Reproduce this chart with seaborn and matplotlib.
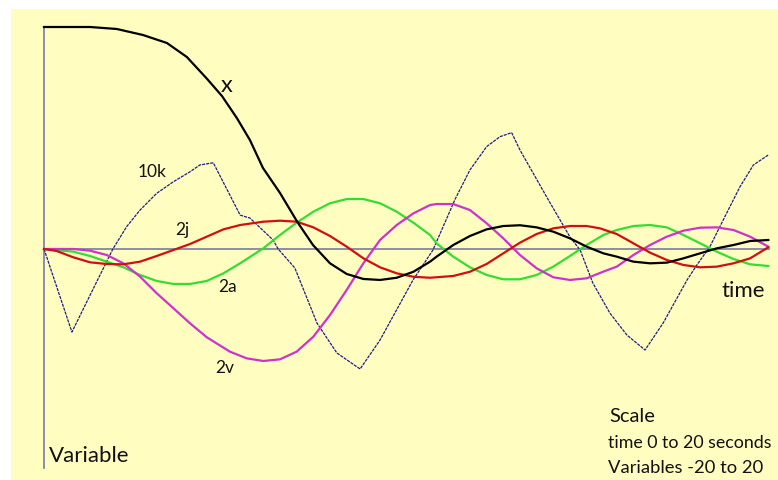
import matplotlib
matplotlib.use("Agg")
import matplotlib.pyplot as plt
import seaborn as sns
import pandas as pd

# Time samples (s) and values for each traced variable
t_x = [0, 1.27, 2.01, 2.73, 3.39, 3.94, 4.50, 4.91, 5.32, 5.68,
       6.04, 6.51, 6.99, 7.42, 7.89, 8.35, 8.81, 9.27, 9.73, 10.19,
       10.65, 10.83, 11.29, 11.75, 12.21, 12.67, 13.13, 13.59, 14.05, 14.51,
       14.97, 15.43, 15.80, 16.26, 16.72, 17.18, 17.64, 18.10, 18.56, 19.02,
       19.48, 19.98]
x_vals = [20.0, 20.0, 19.82, 19.28, 18.56, 17.30, 15.32, 13.78, 11.80, 9.82,
          7.30, 5.05, 2.43, 0.36, -1.29, -2.25, -2.70, -2.79, -2.59, -2.05,
          -1.14, -0.69, 0.36, 1.17, 1.77, 2.07, 2.14, 1.95, 1.56, 0.96,
          0.21, -0.39, -0.69, -1.14, -1.29, -1.23, -0.84, -0.39, 0.06, 0.36,
          0.72, 0.81]

t_j = [0, 0.35, 0.81, 1.27, 1.73, 2.19, 2.65, 3.11, 3.57, 4.03,
       4.49, 4.95, 5.41, 6.05, 6.51, 6.97, 7.43, 7.89, 8.35, 8.81,
       9.27, 9.73, 10.19, 10.65, 11.29, 11.75, 12.21, 12.67, 13.13, 13.59,
       14.05, 14.51, 14.97, 15.34, 15.80, 16.26, 16.72, 17.18, 17.64, 18.10,
       18.56, 19.02, 19.48, 19.98]
j2_vals = [0, -0.18, -0.75, -1.20, -1.35, -1.38, -1.14, -0.63, -0.09, 0.45,
           1.11, 1.77, 2.16, 2.46, 2.55, 2.46, 1.95, 1.17, 0.21, -0.84,
           -1.65, -2.19, -2.50, -2.59, -2.43, -2.05, -1.35, -0.39, 0.57, 1.35,
           1.86, 2.07, 2.07, 1.86, 1.35, 0.51, -0.33, -0.99, -1.44, -1.65,
           -1.59, -1.29, -0.84, 0.15]

t_a = [0, 0.81, 1.27, 1.73, 2.19, 2.65, 3.11, 3.57, 4.03, 4.49,
       4.95, 5.41, 6.05, 6.51, 6.97, 7.43, 7.89, 8.35, 8.81, 9.27,
       9.73, 10.19, 10.65, 10.83, 11.29, 11.75, 12.21, 12.67, 13.13, 13.59,
       14.05, 14.51, 14.97, 15.43, 15.80, 16.26, 16.72, 17.18, 17.64, 18.10,
       18.56, 19.02, 19.48, 19.98]
a2_vals = [0, -0.24, -0.63, -1.14, -1.65, -2.34, -2.88, -3.15, -3.15, -2.88,
           -2.19, -1.29, 0.06, 1.26, 2.37, 3.36, 4.12, 4.50, 4.50, 4.12,
           3.36, 2.37, 1.26, 0.51, -0.69, -1.65, -2.34, -2.73, -2.73, -2.34,
           -1.59, -0.63, 0.36, 1.26, 1.71, 2.07, 2.16, 1.95, 1.26, 0.51,
           -0.24, -0.90, -1.38, -1.53]

t_v = [0, 0.81, 1.27, 1.73, 2.19, 2.65, 3.11, 3.57, 4.03, 4.49,
       4.76, 5.13, 5.59, 6.05, 6.51, 6.97, 7.43, 7.89, 8.35, 8.81,
       9.27, 9.73, 10.19, 10.65, 10.83, 11.29, 11.75, 12.21, 12.67, 13.13,
       13.59, 14.05, 14.51, 14.97, 15.43, 15.80, 16.26, 16.72, 17.18, 17.64,
       18.10, 18.56, 19.02, 19.48, 19.98]
v2_vals = [0, 0, -0.15, -0.54, -1.29, -2.49, -3.99, -5.34, -6.70, -7.95,
           -8.50, -9.25, -9.85, -10.09, -9.94, -9.25, -7.90, -5.95, -3.69, -1.29,
           0.81, 2.16, 3.21, 3.96, 4.05, 4.05, 3.51, 2.32, 0.96, -0.54,
           -1.74, -2.55, -2.79, -2.64, -2.04, -1.59, -0.54, 0.36, 1.11, 1.65,
           1.92, 1.95, 1.71, 1.11, 0.21]

t_k = [0, 0.77, 1.90, 2.28, 2.65, 3.11, 3.57, 4.03, 4.30, 4.67,
       5.41, 5.49, 5.68, 6.32, 6.46, 6.92, 7.53, 8.08, 8.72, 9.27,
       10.18, 10.73, 11.34, 11.75, 12.21, 12.58, 12.90, 13.13, 13.90, 14.51,
       14.79, 15.14, 15.61, 16.08, 16.58, 17.08, 17.74, 18.01, 18.37, 18.83,
       19.20, 19.57, 19.98]
k10_vals = [0, -7.48, 0, 2.01, 3.51, 5.02, 6.06, 6.96, 7.57, 7.77,
            3.06, 2.97, 2.79, 0.81, 0, -1.71, -6.67, -9.37, -10.81, -8.20,
            -2.79, -0.09, 4.48, 7.12, 9.22, 10.12, 10.48, 8.92, 4.50, 1.08,
            -0.09, -3.06, -5.77, -7.75, -9.10, -6.67, -2.79, -1.44, 0.21, 3.22,
            5.61, 7.57, 8.47]

W, H = 778, 480
fig = plt.figure(figsize=(W / 100, H / 100), dpi=100, facecolor="white")
panel = "#FFFDC0"
ax = fig.add_axes([11 / W, 0, (W - 11) / W, (H - 9) / H])
ax.set_facecolor(panel)
for s in ax.spines.values():
    s.set_visible(False)
ax.set_xticks([])
ax.set_yticks([])

# plotting scale: time 0..20 s spans pixels 44..769, value 0 sits at pixel 249
px_per_s = (769 - 44) / 20.0
px_per_u = 11.1
ax.set_xlim((11 - 44) / px_per_s, (W - 44) / px_per_s)
ax.set_ylim((249 - H) / px_per_u, (249 - 9) / px_per_u)

axis_col = "#8484A8"
ax.plot([0, 0], [20.0, -19.73], color=axis_col, lw=1.3, zorder=1)
ax.plot([0, 20.0], [0, 0], color=axis_col, lw=1.3, zorder=1)

series = [
    (t_k, k10_vals, "#1C1C86", 0.9, (0, (2.5, 0.8))),
    (t_a, a2_vals, "#33DD33", 1.6, "-"),
    (t_v, v2_vals, "#CC33CC", 1.6, "-"),
    (t_j, j2_vals, "#D01010", 1.6, "-"),
    (t_x, x_vals, "#000000", 1.6, "-"),
]
for tt, vv, col, lw, ls in series:
    df = pd.DataFrame({"t": tt, "v": vv})
    sns.lineplot(data=df, x="t", y="v", ax=ax, color=col, linewidth=lw,
                 linestyle=ls, sort=False, estimator=None, zorder=3)
ax.set_xlabel("")
ax.set_ylabel("")
for ln in ax.get_lines():
    ln.set_solid_joinstyle("round")

font = "Lato"


def label(px, py, s, size, ha="center"):
    fig.text(px / W, 1 - py / H, s, fontsize=size, family=font, color="#111111",
             ha=ha, va="center")


label(227, 86, "x", 17)
label(152, 172, "10k", 12.5)
label(182, 230, "2j", 12.5)
label(228, 287, "2a", 12.5)
label(225, 368, "2v", 12.5)
label(743, 291, "time", 16)
label(49, 456, "Variable", 16, ha="left")
label(609, 417, "Scale", 14.5, ha="left")
label(608, 443, "time 0 to 20 seconds", 12.8, ha="left")
label(608, 468, "Variables -20 to 20", 13.2, ha="left")

fig.savefig("out.png", dpi=100, facecolor="white")
